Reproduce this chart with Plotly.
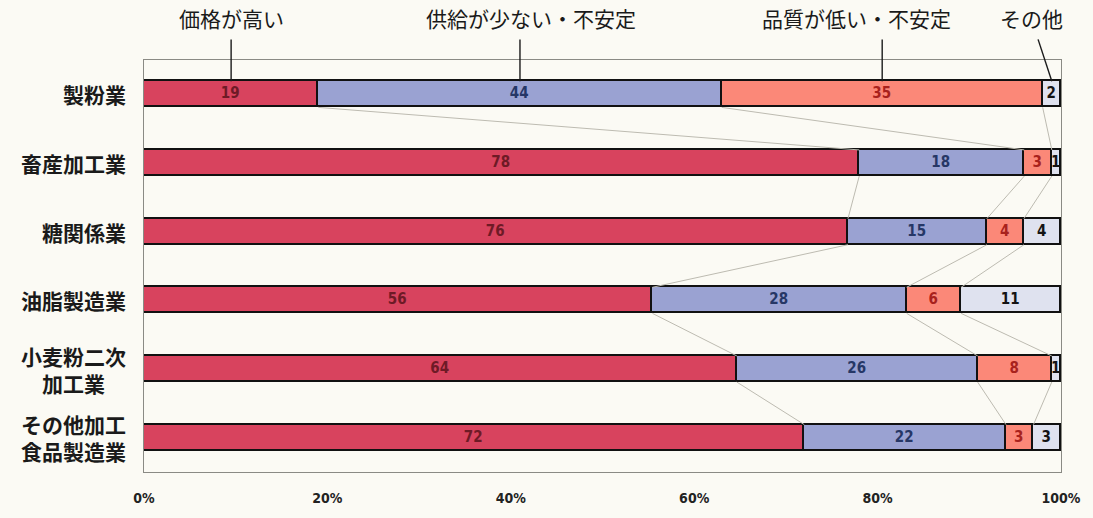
import plotly.graph_objects as go
import numpy as np

# 業種別の不満理由（構成比）
categories = ["製粉業", "畜産加工業", "糖関係業", "油脂製造業",
              "小麦粉二次<br>加工業", "その他加工<br>食品製造業"]
series_names = ["価格が高い", "供給が少ない・不安定", "品質が低い・不安定", "その他"]
price = [19, 78, 76, 56, 64, 72]
supply = [44, 18, 15, 28, 26, 22]
quality = [35, 3, 4, 6, 8, 3]
other = [2, 1, 4, 11, 1, 3]
x_ticks = [0, 20, 40, 60, 80, 100]
x_tick_labels = ["0%", "20%", "40%", "60%", "80%", "100%"]

fills = ["#d8435e", "#9aa2d2", "#fb8878", "#dfe2ef"]
text_colors = ["#6e1a26", "#263766", "#a8221d", "#141414"]

BG = "#fbfaf4"
BAR_W = 0.38
NUM_FONT = "Liberation Sans Narrow, DejaVu Sans Condensed, Arial Narrow, sans-serif"
JP_FONT = "Noto Sans CJK JP, Noto Sans, sans-serif"

values = np.array([price, supply, quality, other], dtype=float)
totals = values.sum(axis=0)
shares = values / totals * 100.0          # each row scaled to 100%
cum = np.cumsum(shares, axis=0)           # segment right edges
rows = np.arange(len(categories))

fig = go.Figure()

# connector lines between matching segment boundaries of neighbouring rows
for k in range(3):
    xs, ys = [], []
    for i in range(len(categories) - 1):
        xs += [cum[k, i], cum[k, i + 1], None]
        ys += [i + BAR_W / 2, i + 1 - BAR_W / 2, None]
    fig.add_trace(go.Scatter(x=xs, y=ys, mode="lines",
                             line=dict(color="#bdbbb1", width=1),
                             hoverinfo="skip", showlegend=False))

for k, name in enumerate(series_names):
    raw = values[k].astype(int)
    fig.add_trace(go.Bar(
        name=name, orientation="h", y=rows, x=shares[k], width=BAR_W,
        marker=dict(color=fills[k], line=dict(color="#111111", width=1.6)),
        text=[str(v) for v in raw], textposition="inside",
        insidetextanchor="middle", textangle=0,
        textfont=dict(family=NUM_FONT, size=15, color=text_colors[k], weight="bold"),
        showlegend=False,
    ))

annotations = []
# category labels
for i, c in enumerate(categories):
    annotations.append(dict(
        x=0, xref="paper", y=i, yref="y", xanchor="right", yanchor="middle",
        xshift=-16, text=c, showarrow=False, align="center",
        font=dict(family=JP_FONT, size=21, color="#1a1a1a", weight="bold"),
    ))

# series labels above the first row, with leader lines to their segments
y_range = (len(categories) - 0.5, -0.5)
bar_top_paper = (y_range[0] - (0 - BAR_W / 2)) / (y_range[0] - y_range[1])
centers = cum[:, 0] - shares[:, 0] / 2
label_x = [centers[0], centers[1] + 1.2, centers[2] - 2.8, centers[3] - 2.2]
line_top_x = [centers[0], centers[1], centers[2], centers[3] - 1.5]
shapes = []
for k, name in enumerate(series_names):
    annotations.append(dict(
        x=label_x[k], xref="x", y=1, yref="paper", yanchor="middle",
        yshift=42, text=name, showarrow=False,
        font=dict(family=JP_FONT, size=21, color="#1a1a1a"),
    ))
    shapes.append(dict(
        type="line", xref="x", yref="paper",
        x0=line_top_x[k], y0=1.05, x1=centers[k], y1=bar_top_paper,
        line=dict(color="#1a1a1a", width=1.4),
    ))

fig.update_layout(
    width=1093, height=518,
    margin=dict(l=144, r=22, t=60, b=36),
    paper_bgcolor=BG, plot_bgcolor=BG,
    barmode="stack", bargap=0,
    annotations=annotations, shapes=shapes,
    xaxis=dict(range=[0, 100], tickvals=x_ticks, ticktext=x_tick_labels,
               showgrid=False, zeroline=False, showline=True, mirror=True,
               linecolor="#8a8a84", linewidth=1, ticks="",
               ticklabelstandoff=13,
               tickfont=dict(family=NUM_FONT, size=14, color="#222222", weight="bold")),
    yaxis=dict(range=list(y_range), showticklabels=False, showgrid=False,
               zeroline=False, showline=True, mirror=True,
               linecolor="#8a8a84", linewidth=1, ticks=""),
    uniformtext=dict(minsize=15, mode="show"),
)

fig.write_html("out.html")
